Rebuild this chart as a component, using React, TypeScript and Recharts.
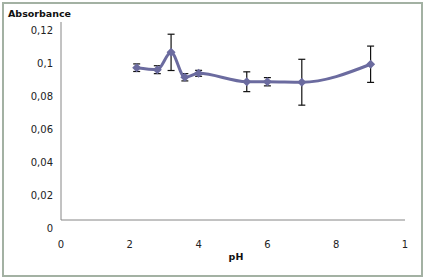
import React from 'react';
import { LineChart, Line, XAxis, YAxis, ErrorBar } from 'recharts';

// pH values and measured absorbance (with error bar half-widths)
const phValues = [2.2, 2.8, 3.2, 3.6, 4, 5.4, 6, 7, 9];
const absorbance = [0.0923, 0.0911, 0.1016, 0.0865, 0.0889, 0.0838, 0.0838, 0.0835, 0.0944];
const errors = [0.0023, 0.0024, 0.011, 0.0022, 0.0018, 0.006, 0.0025, 0.0139, 0.011];

const xTicks = [0, 2, 4, 6, 8, 10];
const xTickLabels = ['0', '2', '4', '6', '8', '1'];
const yTicks = [0, 0.02, 0.04, 0.06, 0.08, 0.1, 0.12];

const chartData = phValues.map((ph, i) => ({ ph, abs: absorbance[i], err: errors[i] }));

const FONT = '"DejaVu Sans", Verdana, sans-serif';
const LINE_COLOR = '#6b6b9f';

const XTick = (props: any) => {
  const { x, y, payload } = props;
  const idx = xTicks.indexOf(payload.value);
  return (
    <text x={x} y={y + 20} textAnchor="middle" fontSize={10} fontFamily={FONT} fill="#222">
      {idx >= 0 ? xTickLabels[idx] : payload.value}
    </text>
  );
};

const YTick = (props: any) => {
  const { x, y, payload } = props;
  return (
    <text x={x} y={y + 11.6} textAnchor="end" fontSize={10} fontFamily={FONT} fill="#222">
      {String(payload.value).replace('.', ',')}
    </text>
  );
};

const Diamond = (props: any) => {
  const { cx, cy, index } = props;
  const r = 4.5;
  return (
    <path
      key={`d-${index}`}
      d={`M${cx},${cy - r} L${cx + r},${cy} L${cx},${cy + r} L${cx - r},${cy} Z`}
      fill={LINE_COLOR}
    />
  );
};

export default function App() {
  return (
    <div style={{ position: 'absolute', left: 0, top: 0, width: 426, height: 280, background: '#fff' }}>
      <div
        style={{
          position: 'absolute',
          left: 2,
          top: 2,
          width: 421,
          height: 275,
          boxSizing: 'border-box',
          border: '2px solid #a3b1a3',
        }}
      />
      <LineChart
        width={426}
        height={280}
        data={chartData}
        margin={{ top: 22, right: 21, left: 8, bottom: 30 }}
      >
        <XAxis
          dataKey="ph"
          type="number"
          domain={[0, 10]}
          ticks={xTicks}
          interval={0}
          tickLine={false}
          axisLine={{ stroke: '#868686' }}
          tick={<XTick />}
          height={30}
        />
        <YAxis
          type="number"
          domain={[0, 0.12]}
          ticks={yTicks}
          interval={0}
          tickLine={false}
          axisLine={{ stroke: '#868686' }}
          tick={<YTick />}
          width={53}
        />
        <Line
          type="monotone"
          dataKey="abs"
          stroke={LINE_COLOR}
          strokeWidth={3}
          dot={Diamond}
          activeDot={false}
          isAnimationActive={false}
        >
          <ErrorBar dataKey="err" direction="y" width={3.5} stroke="#111" strokeWidth={1.2} />
        </Line>
      </LineChart>
      <div
        style={{
          position: 'absolute',
          left: 8,
          top: 8,
          fontFamily: FONT,
          fontSize: 9.5,
          fontWeight: 'bold',
          lineHeight: '11px',
          color: '#111',
        }}
      >
        Absorbance
      </div>
      <div
        style={{
          position: 'absolute',
          left: 236,
          top: 251,
          transform: 'translateX(-50%)',
          fontFamily: FONT,
          fontSize: 9.5,
          fontWeight: 'bold',
          lineHeight: '11px',
          color: '#111',
        }}
      >
        pH
      </div>
    </div>
  );
}
